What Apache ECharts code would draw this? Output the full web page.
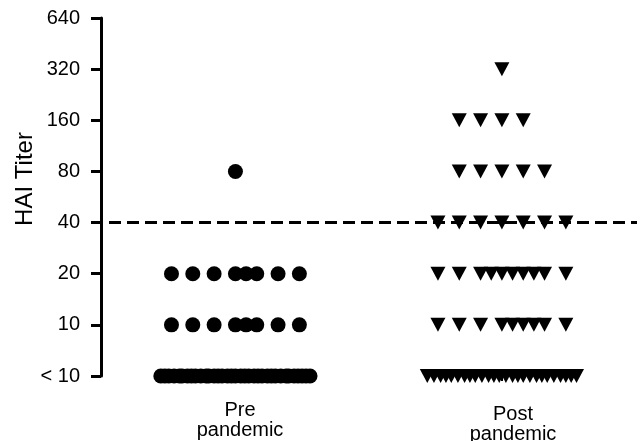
<!DOCTYPE html>
<html><head><meta charset="utf-8">
<script src="https://cdn.jsdelivr.net/npm/echarts@6/dist/echarts.min.js"></script>
<style>html,body{margin:0;padding:0;background:#fff}#c{width:641px;height:441px}</style>
</head><body><div id="c"></div>
<script>
// Titer categories (log2 scale, bottom to top)
const titerLabels = ['< 10', '10', '20', '40', '80', '160', '320', '640'];
const groupLabels = ['Pre\npandemic', 'Post\npandemic'];
const thresholdTiter = '40';

// Pre pandemic: group position 1 with horizontal scatter spread; titer category per point
const preX = [
  0.72,0.735,0.75,0.77,0.79,0.80,0.82,0.835,0.85,0.87,0.89,0.90,0.92,0.935,0.95,0.97,0.985,1.00,1.02,1.035,1.05,1.07,1.085,1.10,1.12,1.135,1.15,1.17,1.19,1.20,1.22,1.235,1.25,1.265,1.28,
  0.76,0.84,0.92,1.00,1.04,1.08,1.16,1.24,
  0.76,0.84,0.92,1.00,1.04,1.08,1.16,1.24,
  1.00
];
const preY = [
  '< 10','< 10','< 10','< 10','< 10','< 10','< 10','< 10','< 10','< 10','< 10','< 10','< 10','< 10','< 10','< 10','< 10','< 10','< 10','< 10','< 10','< 10','< 10','< 10','< 10','< 10','< 10','< 10','< 10','< 10','< 10','< 10','< 10','< 10','< 10',
  '10','10','10','10','10','10','10','10',
  '20','20','20','20','20','20','20','20',
  '80'
];

// Post pandemic: group position 2
const postX = [
  1.72,1.745,1.77,1.79,1.81,1.835,1.86,1.88,1.90,1.925,1.95,1.97,1.99,2.015,2.04,2.06,2.08,2.105,2.13,2.15,2.17,2.195,2.22,2.24,2.26,2.28,
  1.76,1.84,1.92,2.00,2.04,2.08,2.12,2.16,2.24,
  1.76,1.84,1.92,1.96,2.00,2.04,2.08,2.12,2.16,2.24,
  1.76,1.84,1.92,2.00,2.08,2.16,2.24,
  1.84,1.92,2.00,2.08,2.16,
  1.84,1.92,2.00,2.08,
  2.00
];
const postY = [
  '< 10','< 10','< 10','< 10','< 10','< 10','< 10','< 10','< 10','< 10','< 10','< 10','< 10','< 10','< 10','< 10','< 10','< 10','< 10','< 10','< 10','< 10','< 10','< 10','< 10','< 10',
  '10','10','10','10','10','10','10','10','10',
  '20','20','20','20','20','20','20','20','20','20',
  '40','40','40','40','40','40','40',
  '80','80','80','80','80',
  '160','160','160','160',
  '320'
];

const zip = (xs, ys) => xs.map((x, i) => [x, ys[i]]);
const FONT = 'Liberation Sans, Arial, sans-serif';

const chart = echarts.init(document.getElementById('c'), null, {renderer: 'canvas'});
chart.setOption({
  animation: false,
  backgroundColor: '#fff',
  grid: [
    {left: 91, right: 4, top: 18, bottom: 65, containLabel: false, outerBoundsMode: 'none'},
    {left: 240, right: 128, top: 18, bottom: 65, containLabel: false, outerBoundsMode: 'none'}
  ],
  xAxis: [
    {
      type: 'value', gridIndex: 0, min: 0.458, max: 2.507,
      splitLine: {show: false},
      axisLabel: {show: false},
      axisTick: {show: true, customValues: [1, 2], length: 5, lineStyle: {color: '#000', width: 2}},
      axisLine: {onZero: false, lineStyle: {color: '#000', width: 3}}
    },
    {
      type: 'category', gridIndex: 1, boundaryGap: false,
      data: [groupLabels[0], {value: groupLabels[1], textStyle: {padding: [4, 0, 0, 0]}}],
      axisLine: {show: false}, axisTick: {show: false}, splitLine: {show: false},
      axisLabel: {color: '#000', fontSize: 20, fontFamily: FONT, lineHeight: 20, margin: 24, interval: 0}
    }
  ],
  yAxis: [
    {
      type: 'category', gridIndex: 0, data: titerLabels, boundaryGap: false, offset: -10,
      name: 'HAI Titer', nameLocation: 'middle', nameGap: 64, nameMoveOverlap: false,
      nameTextStyle: {color: '#000', fontSize: 24, fontFamily: FONT, padding: [0, 0, 0, 36]},
      axisLine: {lineStyle: {color: '#000', width: 3}},
      axisTick: {length: 10, lineStyle: {color: '#000', width: 3}, alignWithLabel: true},
      splitLine: {show: false},
      axisLabel: {color: '#000', fontSize: 20, fontFamily: FONT, margin: 21, interval: 0}
    },
    {type: 'value', gridIndex: 1, show: false}
  ],
  series: [
    {
      type: 'scatter', name: 'Pre pandemic', xAxisIndex: 0, yAxisIndex: 0,
      data: zip(preX, preY), symbol: 'circle', symbolSize: 15,
      itemStyle: {color: '#000', opacity: 1},
      markLine: {
        silent: true, symbol: ['none', 'none'], label: {show: false},
        lineStyle: {color: '#000', width: 3, type: [12, 6]},
        data: [{yAxis: thresholdTiter}]
      }
    },
    {
      type: 'scatter', name: 'Post pandemic', xAxisIndex: 0, yAxisIndex: 0,
      data: zip(postX, postY), symbol: 'triangle', symbolRotate: 180, symbolSize: [15, 14],
      itemStyle: {color: '#000', opacity: 1}
    }
  ]
});
</script></body></html>
